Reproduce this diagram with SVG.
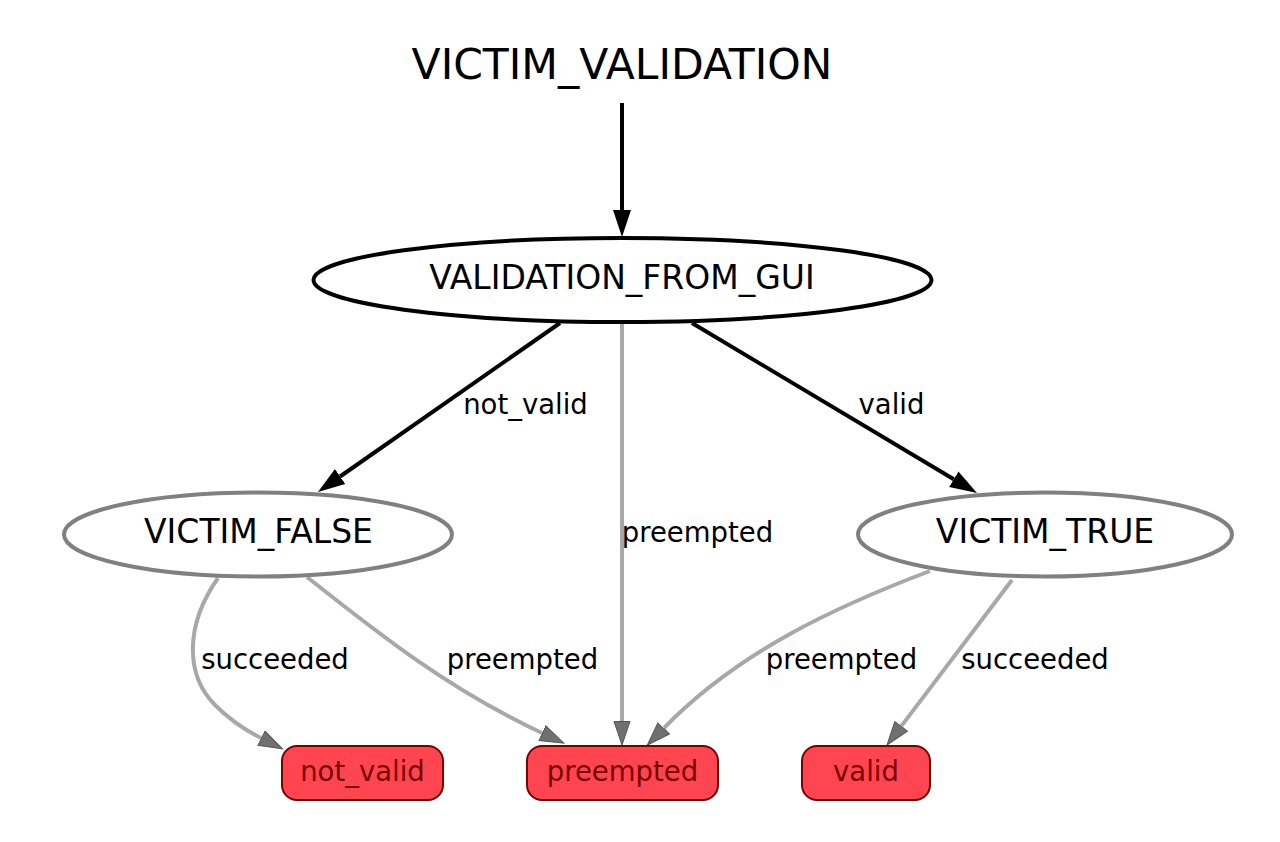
<svg xmlns="http://www.w3.org/2000/svg" width="1280" height="842" viewBox="0 0 1280 842">
<defs>
<style>
text{font-family:"DejaVu Sans","Liberation Sans",sans-serif;text-anchor:middle}
.title{font-size:42.5px;fill:#000}
.state{font-size:33px;fill:#000}
.lbl{font-size:27.5px;fill:#000}
.out{font-size:27.5px;fill:#7a0000}
.e-black{fill:none;stroke:#000;stroke-width:4}
.e-gray{fill:none;stroke:#a8a8a8;stroke-width:4}
.outbox{fill:#ff4650;stroke:#7a0000;stroke-width:2}
</style>
<marker id="ab" markerUnits="userSpaceOnUse" markerWidth="30" markerHeight="22" refX="0" refY="9.5" orient="auto" viewBox="0 0 30 19">
<polygon points="0,0.5 27,9.5 0,18.5" fill="#000"/>
</marker>
<marker id="ag" markerUnits="userSpaceOnUse" markerWidth="28" markerHeight="20" refX="0" refY="9" orient="auto" viewBox="0 0 28 18">
<polygon points="0.5,1 24,9 0.5,17" fill="#707070" stroke="#555" stroke-width="1"/>
</marker>
</defs>
<rect width="1280" height="842" fill="#fff"/>
<g id="connectors">
<path class="e-black" d="M622,103 L622,210" marker-end="url(#ab)"/>
<path class="e-black" d="M560,323 L340.1,476.5" marker-end="url(#ab)"/>
<path class="e-black" d="M692,323 L953.8,479.2" marker-end="url(#ab)"/>
<path class="e-gray" d="M622,323 L622,721" marker-end="url(#ag)"/>
<path class="e-gray" d="M218,578 C185,625 185,675 215,705 C230,720 245,730 261,738" marker-end="url(#ag)"/>
<path class="e-gray" d="M307,577 C380,635 450,690 542,733" marker-end="url(#ag)"/>
<path class="e-gray" d="M930,571 C840,605 740,650 664,728" marker-end="url(#ag)"/>
<path class="e-gray" d="M1012,580 L901.5,725.9" marker-end="url(#ag)"/>
<text class="lbl" x="525.5" y="414">not_valid</text>
<text class="lbl" x="891.5" y="414">valid</text>
<text class="lbl" x="697.5" y="542">preempted</text>
<text class="lbl" x="275" y="669">succeeded</text>
<text class="lbl" x="522.5" y="669">preempted</text>
<text class="lbl" x="841.5" y="669">preempted</text>
<text class="lbl" x="1035" y="669">succeeded</text>
</g>
<g id="VICTIM_VALIDATION">
<text class="title" x="622" y="79">VICTIM_VALIDATION</text>
</g>
<g id="VALIDATION_FROM_GUI">
<ellipse cx="622.5" cy="280" rx="309" ry="42" fill="#fff" stroke="#000" stroke-width="4"/>
<text class="state" x="622" y="289">VALIDATION_FROM_GUI</text>
</g>
<g id="VICTIM_FALSE">
<ellipse cx="258" cy="534.5" rx="194" ry="42" fill="#fff" stroke="#808080" stroke-width="4"/>
<text class="state" x="258.5" y="543">VICTIM_FALSE</text>
</g>
<g id="VICTIM_TRUE">
<ellipse cx="1045" cy="534.5" rx="187" ry="42" fill="#fff" stroke="#808080" stroke-width="4"/>
<text class="state" x="1045" y="543">VICTIM_TRUE</text>
</g>
<g id="not_valid">
<rect class="outbox" x="282" y="746" width="161" height="54" rx="15"/>
<text class="out" x="362.5" y="781">not_valid</text>
</g>
<g id="preempted">
<rect class="outbox" x="527" y="746" width="191" height="54" rx="15"/>
<text class="out" x="622.5" y="781">preempted</text>
</g>
<g id="valid">
<rect class="outbox" x="802" y="746" width="128" height="54" rx="15"/>
<text class="out" x="866" y="781">valid</text>
</g>
</svg>
